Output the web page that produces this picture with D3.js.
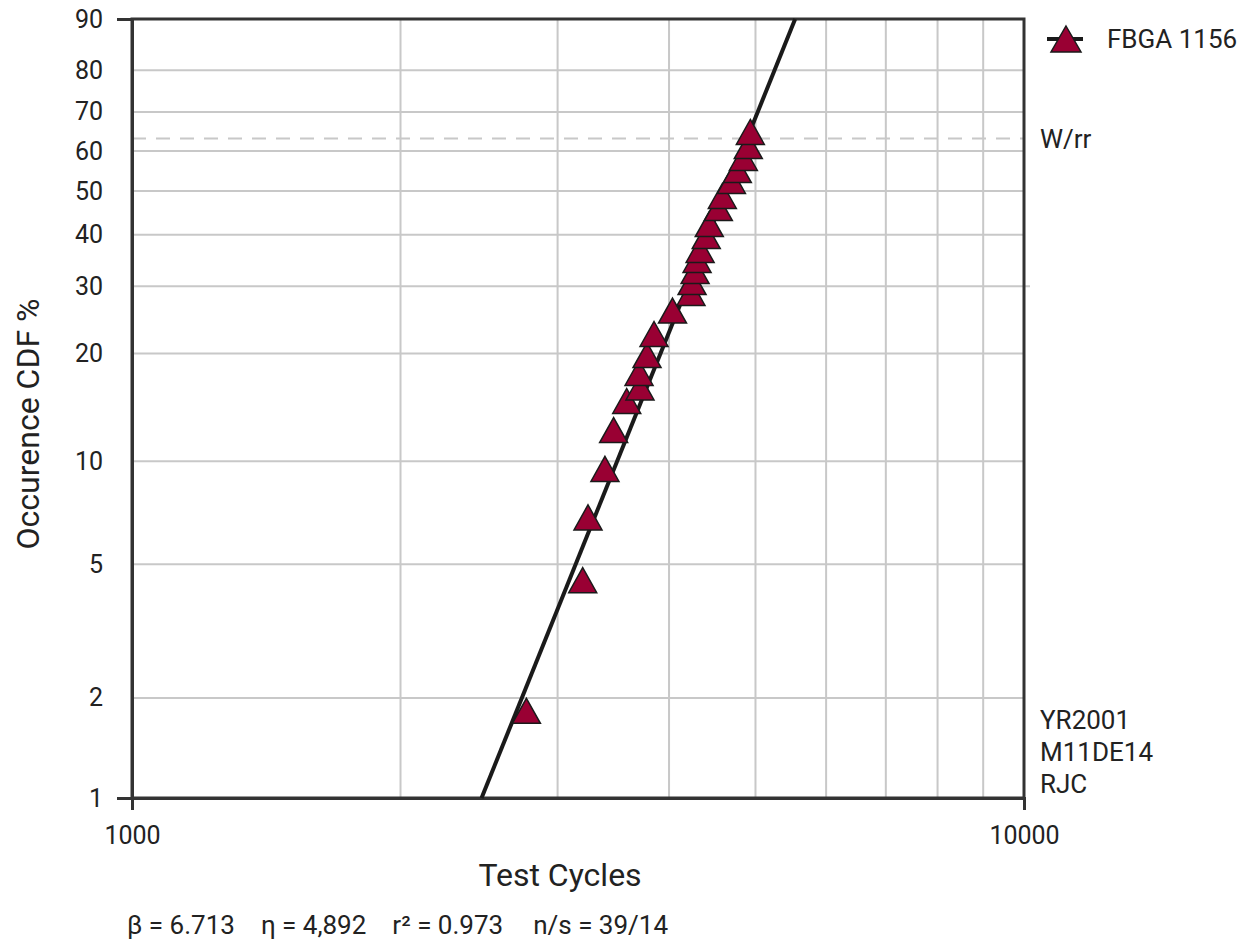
<!DOCTYPE html>
<html>
<head>
<meta charset="utf-8">
<script src="https://cdn.jsdelivr.net/npm/d3@7"></script>
<style>
  body { margin: 0; background: #fff; }
  text { font-family: Roboto, "Noto Sans", sans-serif; fill: #222; }
</style>
</head>
<body>
<div class="chart"></div>
<script>
// failure points (cycles, median rank %)
var cycles = [2768, 3201, 3245, 3390, 3467, 3586, 3711, 3702, 3779, 3848, 4036,
  4233, 4245, 4278, 4300, 4334, 4403, 4438, 4543, 4590, 4699, 4771, 4846, 4908, 4934];
var cdfPct = [1.83, 4.49, 6.87, 9.50, 12.27, 14.81, 16.15, 17.71, 19.82, 22.57, 26.01,
  28.86, 30.76, 32.76, 34.86, 36.85, 39.75, 42.36, 45.99, 48.82, 52.47, 55.2, 58.24, 61.3, 64.9];

var beta = 6.713, eta = 4892;
var seriesName = "FBGA 1156";
var yTicks = [1, 2, 5, 10, 20, 30, 40, 50, 60, 70, 80, 90];
var xTicks = [1000, 10000];
var xGrid = [2000, 3000, 4000, 5000, 6000, 7000, 8000, 9000];
var sideNotes = ["YR2001", "M11DE14", "RJC"];
var statsParts = ["β = 6.713", "η = 4,892", "r² = 0.973", "n/s = 39/14"];

var margin = {top: 19, right: 228, bottom: 145, left: 132},
  width = 1252 - margin.left - margin.right,
  height = 943 - margin.top - margin.bottom;

var weib = function(p){ return Math.log(-Math.log(1 - p / 100)) }

var x = d3.scaleLog().domain([1000, 10000]).range([0, width]);
var y = d3.scaleLinear().domain([weib(1), weib(90)]).range([height, 0]);

var svg = d3.select(".chart").append("svg")
  .attr("width", 1252).attr("height", 943)
  .append("g")
  .attr("transform", "translate(" + margin.left + "," + margin.top + ")");

// grid
svg.selectAll(".vgrid").data(xGrid).enter().append("line")
  .attr("x1", function(d){ return x(d) }).attr("x2", function(d){ return x(d) })
  .attr("y1", 0).attr("y2", height)
  .style("stroke", "#c8c8c8").style("stroke-width", 2);

svg.selectAll(".hgrid").data(yTicks.slice(1, -1)).enter().append("line")
  .attr("x1", 0).attr("x2", function(d){ return d == 30 ? width + 6 : width })
  .attr("y1", function(d){ return y(weib(d)) }).attr("y2", function(d){ return y(weib(d)) })
  .style("stroke", "#c8c8c8").style("stroke-width", 2);

// characteristic life line (63.2%)
var wrrY = y(0);
svg.append("line")
  .attr("x1", 0).attr("x2", width)
  .attr("y1", wrrY).attr("y2", wrrY)
  .style("stroke", "#c8c8c8").style("stroke-width", 2)
  .style("stroke-dasharray", "14,10");

// frame
svg.append("rect")
  .attr("width", width).attr("height", height)
  .style("fill", "none").style("stroke", "#333").style("stroke-width", 3);

// axes
var yAxis = d3.axisLeft(y)
  .tickValues(yTicks.map(weib))
  .tickFormat(function(d, i){ return yTicks[i] })
  .tickSizeInner(0).tickSizeOuter(15).tickPadding(29);

var gy = svg.append("g").call(yAxis);
gy.selectAll("text").style("font-size", "25px").style("font-family", "Roboto").attr("fill", "#222");
gy.select(".domain").style("stroke", "#333").style("stroke-width", 3);

var xAxis = d3.axisBottom(x)
  .tickValues(xTicks)
  .tickFormat(d3.format("d"))
  .tickSizeInner(0).tickSizeOuter(12).tickPadding(28);

var gx = svg.append("g").attr("transform", "translate(0," + height + ")").call(xAxis);
gx.selectAll("text").style("font-size", "25px").style("font-family", "Roboto").attr("fill", "#222");
gx.select(".domain").style("stroke", "#333").style("stroke-width", 3);

// fit line
var lineX = function(p){ return x(eta * Math.pow(-Math.log(1 - p / 100), 1 / beta)) }
svg.append("line")
  .attr("x1", lineX(1)).attr("y1", y(weib(1)))
  .attr("x2", lineX(90)).attr("y2", y(weib(90)))
  .style("stroke", "#1a1a1a").style("stroke-width", 4);

// points
var tri = function(w, h){
  return "M0," + (-h / 2) + "L" + (w / 2) + "," + (h / 2) + "L" + (-w / 2) + "," + (h / 2) + "Z"
}
svg.selectAll(".pt").data(cycles).enter().append("path")
  .attr("class", "pt")
  .attr("d", tri(28, 25))
  .attr("transform", function(d, i){ return "translate(" + x(d) + "," + y(weib(cdfPct[i])) + ")" })
  .style("fill", "#990033").style("stroke", "#1a1a1a").style("stroke-width", 1.5);

// legend
var lg = svg.append("g").attr("transform", "translate(" + (width + 42) + ",20)");
lg.append("line").attr("x1", -19).attr("x2", 17).style("stroke", "#1a1a1a").style("stroke-width", 4);
lg.append("path").attr("d", tri(30, 26)).style("fill", "#990033").style("stroke", "#1a1a1a").style("stroke-width", 1.5);
lg.append("text").attr("x", 41).attr("dy", "0.35em").style("font-size", "26px").text(seriesName);

svg.append("text")
  .attr("x", width + 16).attr("y", wrrY).attr("dy", "0.35em")
  .style("font-size", "26px").text("W/rr");

svg.selectAll(".note").data(sideNotes).enter().append("text")
  .attr("x", width + 16)
  .attr("y", function(d, i){ return 720 - margin.top + i * 32 })
  .attr("dy", "0.35em")
  .style("font-size", "26px")
  .text(function(d){ return d });

// titles
svg.append("text")
  .attr("transform", "translate(-104," + (424 - margin.top) + ") rotate(-90)")
  .attr("text-anchor", "middle").attr("dy", "0.35em")
  .style("font-size", "32px").text("Occurence CDF %");

svg.append("text")
  .attr("x", 560 - margin.left).attr("y", height + 77)
  .attr("text-anchor", "middle").attr("dy", "0.35em")
  .style("font-size", "32px").text("Test Cycles");

// fit statistics
var stats = svg.append("text")
  .attr("x", -5).attr("y", height + 127)
  .attr("dy", "0.35em")
  .style("font-size", "26px");
stats.selectAll("tspan").data(statsParts).enter().append("tspan")
  .attr("dx", function(d, i){ return i == 0 ? 0 : (i == 3 ? 30 : 26) })
  .text(function(d){ return d });
</script>
</body>
</html>
